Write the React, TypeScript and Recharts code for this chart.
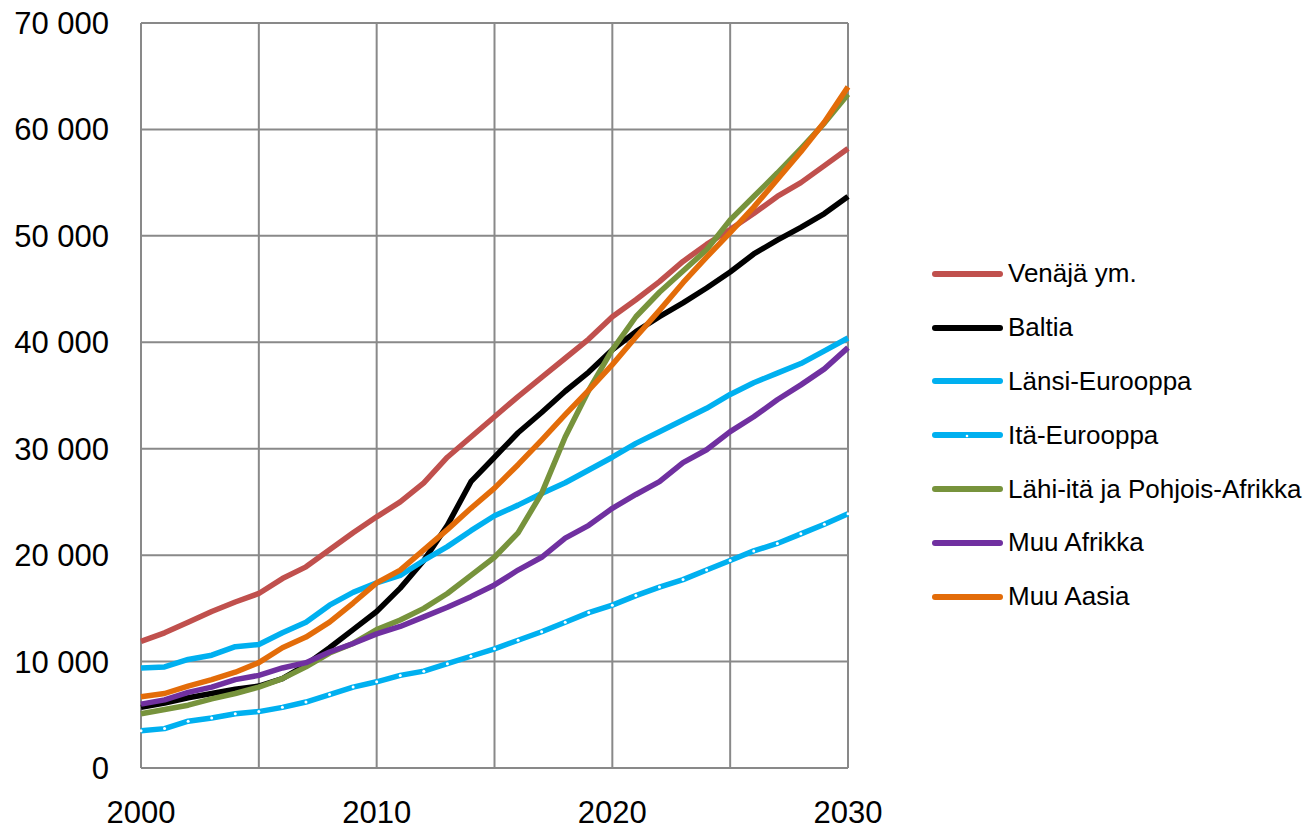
import { LineChart, Line, XAxis, YAxis, CartesianGrid } from 'recharts';

const years = [
    2000, 2001, 2002, 2003, 2004, 2005, 2006, 2007, 2008, 2009, 2010,
    2011, 2012, 2013, 2014, 2015, 2016, 2017, 2018, 2019, 2020,
    2021, 2022, 2023, 2024, 2025, 2026, 2027, 2028, 2029, 2030,
];

const venaja = [
    11900, 12700, 13700, 14700, 15600, 16400, 17800, 18900, 20500, 22100, 23600,
    25000, 26800, 29200, 31100, 33000, 34900, 36700, 38500, 40300, 42400,
    44000, 45700, 47600, 49200, 50600, 52100, 53700, 55000, 56600, 58200,
];
const baltia = [
    5700, 6100, 6600, 7000, 7400, 7700, 8400, 9700, 11300, 13000, 14700,
    16900, 19500, 22800, 26900, 29200, 31500, 33400, 35400, 37200, 39300,
    41000, 42400, 43700, 45100, 46600, 48300, 49600, 50800, 52100, 53700,
];
const lansiEurooppa = [
    9400, 9500, 10200, 10600, 11400, 11600, 12700, 13700, 15300, 16500, 17400,
    18100, 19500, 20800, 22300, 23700, 24700, 25800, 26800, 28000, 29200,
    30500, 31600, 32700, 33800, 35100, 36200, 37100, 38000, 39200, 40400,
];
const itaEurooppa = [
    3500, 3700, 4400, 4700, 5100, 5300, 5700, 6200, 6900, 7600, 8100,
    8700, 9100, 9800, 10500, 11200, 12000, 12800, 13700, 14600, 15300,
    16200, 17000, 17700, 18600, 19500, 20400, 21100, 22000, 22900, 23900,
];
const lahiIta = [
    5100, 5500, 5900, 6500, 7000, 7600, 8400, 9500, 10800, 11700, 13000,
    13900, 15000, 16400, 18100, 19800, 22100, 25800, 31100, 35500, 39300,
    42400, 44700, 46700, 48700, 51500, 53700, 55900, 58200, 60600, 63300,
];
const muuAfrikka = [
    6000, 6400, 7100, 7600, 8300, 8700, 9400, 9900, 10900, 11700, 12600,
    13300, 14200, 15100, 16100, 17200, 18600, 19800, 21600, 22800, 24400,
    25700, 26900, 28700, 29900, 31600, 33000, 34600, 36000, 37500, 39500,
];
const muuAasia = [
    6700, 7000, 7700, 8300, 9000, 9900, 11300, 12300, 13700, 15500, 17400,
    18600, 20500, 22400, 24400, 26300, 28500, 30800, 33200, 35500, 37900,
    40500, 43000, 45600, 48000, 50300, 52700, 55300, 57900, 60700, 64000,
];

const yTicks = [0, 10000, 20000, 30000, 40000, 50000, 60000, 70000];
const xTicks = [2000, 2010, 2020, 2030];
const xGrid = [2000, 2005, 2010, 2015, 2020, 2025, 2030];

const series = [
    { key: 'venaja', name: 'Venäjä ym.', color: '#C0504D', values: venaja },
    { key: 'baltia', name: 'Baltia', color: '#000000', values: baltia },
    { key: 'lansi', name: 'Länsi-Eurooppa', color: '#00B0F0', values: lansiEurooppa },
    { key: 'ita', name: 'Itä-Eurooppa', color: '#00B0F0', values: itaEurooppa, marker: true },
    { key: 'lahi', name: 'Lähi-itä ja Pohjois-Afrikka', color: '#77933C', values: lahiIta },
    { key: 'afrikka', name: 'Muu Afrikka', color: '#7030A0', values: muuAfrikka },
    { key: 'aasia', name: 'Muu Aasia', color: '#E36C09', values: muuAasia },
];

const data = years.map((year, i) => {
    const row: any = { year };
    series.forEach((s) => { row[s.key] = s.values[i]; });
    return row;
});

const FONT = '"Liberation Sans", Arial, sans-serif';

const formatThousands = (v: number) => {
    if (v === 0) return '0';
    const s = String(v);
    return s.slice(0, s.length - 3) + ' ' + s.slice(-3);
};

// legend drawn beside the chart so it doesn't eat into the plot area
const LegendBox = () => (
    <div style={{ position: 'absolute', left: 931, top: 247, fontFamily: FONT }}>
        {series.map((s) => (
            <div key={s.key} style={{ display: 'flex', alignItems: 'center', height: 53.8 }}>
                <svg width={74} height={12} style={{ marginRight: 3 }}>
                    <line x1={4} y1={6} x2={69} y2={6} stroke={s.color} strokeWidth={6} strokeLinecap="round" />
                    {s.marker && <circle cx={36} cy={7} r={1.3} fill="#fff" />}
                </svg>
                <span style={{ fontSize: 26, color: '#000', whiteSpace: 'nowrap' }}>{s.name}</span>
            </div>
        ))}
    </div>
);

export default function App() {
    return (
        <div style={{ position: 'absolute', left: 0, top: 0, width: 1306, height: 829, background: '#fff' }}>
            <LineChart width={1306} height={829} data={data} margin={{ top: 23, right: 458, bottom: 0, left: 0 }}>
                <CartesianGrid stroke="#898989" strokeWidth={2} verticalValues={xGrid} horizontalValues={yTicks} />
                <XAxis
                    dataKey="year"
                    type="number"
                    domain={[2000, 2030]}
                    ticks={xTicks}
                    height={61}
                    tickSize={0}
                    tickMargin={33}
                    axisLine={{ stroke: '#898989', strokeWidth: 2 }}
                    tick={{ fill: '#000', fontSize: 31, fontFamily: FONT }}
                    interval={0}
                />
                <YAxis
                    type="number"
                    domain={[0, 70000]}
                    ticks={yTicks}
                    width={141}
                    tickSize={0}
                    tickMargin={32}
                    axisLine={false}
                    tickFormatter={formatThousands}
                    tick={{ fill: '#000', fontSize: 31, fontFamily: FONT }}
                    interval={0}
                />
                {series.map((s) => (
                    <Line
                        key={s.key}
                        type="linear"
                        dataKey={s.key}
                        name={s.name}
                        stroke={s.color}
                        strokeWidth={5.5}
                        strokeLinejoin="round"
                        dot={s.marker ? { r: 1.5, fill: '#fff', stroke: 'none' } : false}
                        activeDot={false}
                        isAnimationActive={false}
                    />
                ))}
            </LineChart>
            <LegendBox />
        </div>
    );
}
